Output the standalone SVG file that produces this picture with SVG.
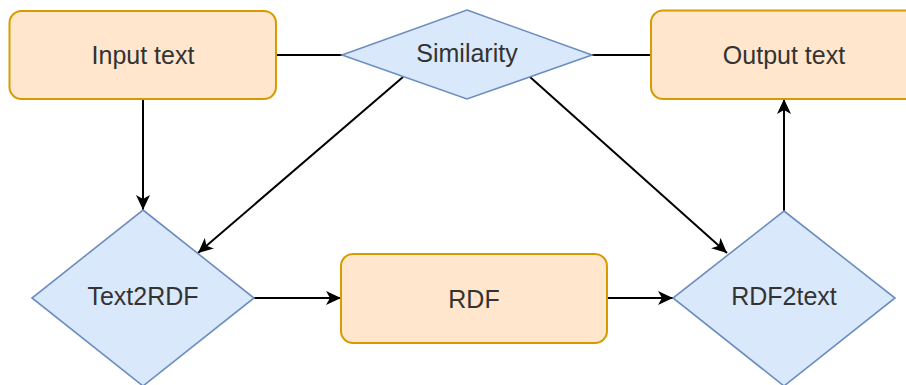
<svg xmlns="http://www.w3.org/2000/svg" width="906" height="385" viewBox="0 0 906 385">
  <style>
    .box { fill: #ffe6cc; stroke: #d79b00; stroke-width: 2; }
    .dia { fill: #dae8fc; stroke: #6c8ebf; stroke-width: 1.6; }
    .lbl { font-family: "Liberation Sans", Arial, sans-serif; font-size: 25px; fill: #333333; text-anchor: middle; }
    .edge { fill: none; stroke: #000000; stroke-width: 2; }
  </style>
  <defs>
    <marker id="arr" markerUnits="userSpaceOnUse" markerWidth="16" markerHeight="14" refX="15" refY="7" orient="auto">
      <path d="M0,0 L15,7 L0,14 L4,7 Z" fill="#000000"/>
    </marker>
  </defs>
  <rect width="906" height="385" fill="#ffffff"/>
  <g id="connectors">
    <path class="edge" d="M276,55 L342,55"/>
    <path class="edge" d="M592,55 L651,55"/>
    <path class="edge" d="M143,99 L143,210" marker-end="url(#arr)"/>
    <path class="edge" d="M403,77 L198,253" marker-end="url(#arr)"/>
    <path class="edge" d="M530,77 L727,253" marker-end="url(#arr)"/>
    <path class="edge" d="M784,211 L784,99" marker-end="url(#arr)"/>
    <path class="edge" d="M254,298 L341,298" marker-end="url(#arr)"/>
    <path class="edge" d="M607,298 L673,298" marker-end="url(#arr)"/>
  </g>
  <g id="input-text">
    <rect class="box" x="9.5" y="11" width="266.5" height="88" rx="12" ry="12"/>
    <text class="lbl" x="143" y="64">Input text</text>
  </g>
  <g id="similarity">
    <polygon class="dia" points="467,10 592,55 467,99 342,55"/>
    <text class="lbl" x="467" y="62">Similarity</text>
  </g>
  <g id="output-text">
    <rect class="box" x="651" y="10.5" width="266" height="88.5" rx="12" ry="12"/>
    <text class="lbl" x="784" y="64">Output text</text>
  </g>
  <g id="text2rdf">
    <polygon class="dia" points="143,210 254,298 143,386 32,298"/>
    <text class="lbl" x="143" y="305">Text2RDF</text>
  </g>
  <g id="rdf">
    <rect class="box" x="341" y="254" width="266" height="89" rx="12" ry="12"/>
    <text class="lbl" x="474" y="308">RDF</text>
  </g>
  <g id="rdf2text">
    <polygon class="dia" points="784,211 895,298 784,386 673,298"/>
    <text class="lbl" x="784" y="305">RDF2text</text>
  </g>
</svg>
